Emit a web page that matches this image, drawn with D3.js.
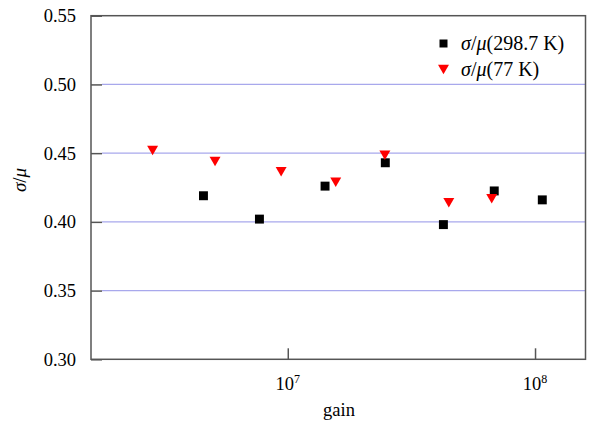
<!DOCTYPE html>
<html>
<head>
<meta charset="utf-8">
<script src="https://cdn.jsdelivr.net/npm/d3@7"></script>
<style>
  body { margin: 0; background: #fff; }
  svg text { font-family: "Liberation Serif", "Times New Roman", serif !important; fill: #000; }
</style>
</head>
<body>
<script>
// data
var gainRoom = [4.56e6, 7.68e6, 1.415e7, 2.48e7, 4.26e7, 6.84e7, 1.07e8];
var ratioRoom = [0.419, 0.402, 0.426, 0.443, 0.398, 0.4225, 0.416];
var gainCold = [2.84e6, 5.08e6, 9.4e6, 1.563e7, 2.47e7, 4.48e7, 6.68e7];
var ratioCold = [0.452, 0.444, 0.4365, 0.4288, 0.4486, 0.414, 0.4168];
var yTicks = [0.30, 0.35, 0.40, 0.45, 0.50, 0.55];
var xTicks = [1e7, 1e8];
var seriesTemps = ["(298.7 K)", "(77 K)"];

var W = 591, H = 426;
var mLeft = 91, mRight = 585.5, mTop = 15.7, mBottom = 359.3;
var serif = "'Liberation Serif', 'Times New Roman', serif";

var svg = d3.select("body").append("svg")
  .attr("width", W)
  .attr("height", H)
  .style("font-family", serif);

var x = d3.scaleLog().domain([1.6e6, 1.6e8]).range([mLeft, mRight]);
var y = d3.scaleLinear().domain([0.30, 0.55]).range([mBottom, mTop]);

var axisCol = "#555";
var gridCol = "#a8a8ec";

//gridlines
svg.append("g")
  .selectAll("line")
  .data(yTicks.filter(function(d){ return d > 0.30 && d < 0.55; }))
  .enter().append("line")
  .attr("x1", mLeft + 11)
  .attr("x2", mRight)
  .attr("y1", function(d){ return y(d); })
  .attr("y2", function(d){ return y(d); })
  .attr("stroke", gridCol)
  .attr("stroke-width", 1.2);

//y axis, ticks inside
var yAxis = svg.append("g")
  .attr("transform", "translate(" + mLeft + ",0)")
  .call(d3.axisRight(y).tickValues(yTicks).tickSize(11).tickFormat(""));
yAxis.select(".domain").remove();
yAxis.selectAll("line").attr("stroke", axisCol).attr("stroke-width", 1.5);

svg.append("g")
  .selectAll("text")
  .data(yTicks)
  .enter().append("text")
  .attr("x", mLeft - 15)
  .attr("y", function(d){ return y(d); })
  .attr("dy", "0.35em")
  .attr("text-anchor", "end")
  .style("font-family", serif)
  .style("font-size", "18.5px")
  .text(function(d){ return d3.format(".2f")(d); });

//x axis, ticks inside
var xAxis = svg.append("g")
  .attr("transform", "translate(0," + mBottom + ")")
  .call(d3.axisTop(x).tickValues(xTicks).tickSize(11).tickFormat(""));
xAxis.select(".domain").remove();
xAxis.selectAll("line").attr("stroke", axisCol).attr("stroke-width", 1.5);

var xl = svg.append("g")
  .selectAll("text")
  .data(xTicks)
  .enter().append("text")
  .attr("x", function(d){ return x(d); })
  .attr("y", 389.5)
  .attr("text-anchor", "middle")
  .style("font-family", serif)
  .style("font-size", "18.5px");
xl.append("tspan").text("10");
xl.append("tspan")
  .attr("dy", -7)
  .style("font-size", "12px")
  .text(function(d){ return Math.round(Math.log10(d)); });

//frame
svg.append("rect")
  .attr("x", mLeft)
  .attr("y", mTop)
  .attr("width", mRight - mLeft)
  .attr("height", mBottom - mTop)
  .attr("fill", "none")
  .attr("stroke", axisCol)
  .attr("stroke-width", 1.5);

//axis titles
svg.append("text")
  .attr("x", 339)
  .attr("y", 415.5)
  .attr("text-anchor", "middle")
  .style("font-family", serif)
  .style("font-size", "18.5px")
  .text("gain");

var yt = svg.append("text")
  .attr("transform", "translate(26,180) rotate(-90)")
  .attr("text-anchor", "middle")
  .style("font-family", serif)
  .style("font-size", "19px");
yt.append("tspan").style("font-style", "italic").text("σ");
yt.append("tspan").text("/");
yt.append("tspan").style("font-style", "italic").text("μ");

//markers
var square = d3.symbol().type(d3.symbolSquare).size(80);
var tri = d3.symbol().type(d3.symbolTriangle).size(52);

svg.append("g")
  .selectAll("path")
  .data(gainRoom)
  .enter().append("path")
  .attr("d", square)
  .attr("fill", "#000")
  .attr("transform", function(d, i){ return "translate(" + x(d) + "," + y(ratioRoom[i]) + ")"; });

svg.append("g")
  .selectAll("path")
  .data(gainCold)
  .enter().append("path")
  .attr("d", tri)
  .attr("fill", "#ff0000")
  .attr("transform", function(d, i){ return "translate(" + x(d) + "," + (y(ratioCold[i]) - 1.5) + ") rotate(180)"; });

//legend
var legend = svg.append("g")
  .selectAll("g")
  .data(seriesTemps)
  .enter().append("g")
  .attr("transform", function(d, i){ return "translate(443.5," + (43.5 + i * 26) + ")"; });

legend.append("path")
  .attr("d", function(d, i){ return i == 0 ? d3.symbol().type(d3.symbolSquare).size(64)() : tri(); })
  .attr("fill", function(d, i){ return i == 0 ? "#000" : "#ff0000"; })
  .attr("transform", function(d, i){ return i == 0 ? null : "translate(0,-1.5) rotate(180)"; });

var lt = legend.append("text")
  .attr("x", 17.5)
  .attr("y", 0)
  .attr("dy", "0.33em")
  .style("font-family", serif)
  .style("font-size", "20px");
lt.append("tspan").style("font-style", "italic").text("σ");
lt.append("tspan").text("/");
lt.append("tspan").style("font-style", "italic").text("μ");
lt.append("tspan").text(function(d){ return d; });
</script>
</body>
</html>
